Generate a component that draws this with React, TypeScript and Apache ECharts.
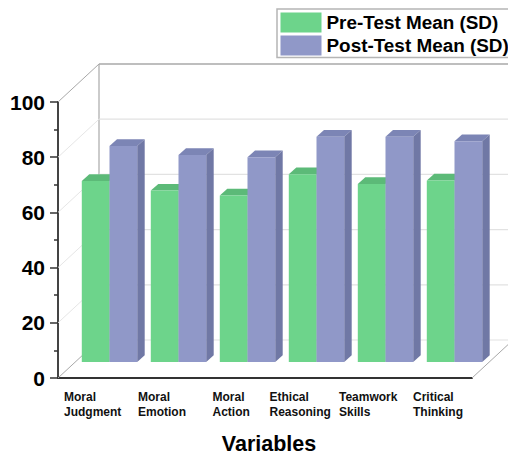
import React, { useEffect, useRef } from "react";
import * as echarts from "echarts";

const categories = ["Moral\nJudgment", "Moral\nEmotion", "Moral\nAction", "Ethical\nReasoning", "Teamwork\nSkills", "Critical\nThinking"];
const labelWidths = [57, 47, 36, 60, 59, 49];
const preTest = [65.6, 62.1, 60.3, 68, 64.5, 65.8];
const postTest = [78.3, 75, 74.2, 81.6, 81.6, 80];
const gridValues = [0, 20, 40, 60, 80, 100];

const DEPTH_X = 41, DEPTH_Y = 38;
const BAR_DX = 17, BAR_DY = 16, SIDE_X = 7.5, SIDE_Y = 6.7, BAR_W = 27.7;
const FONT = "'Liberation Sans', Arial, sans-serif";

function barRender(slot: number, front: string, top: string, side: string) {
  return (_p: any, api: any) => {
    const i = api.value(0), v = api.value(1);
    const [cx, yv] = api.coord([i, v]);
    const [, y0] = api.coord([i, 0]);
    const x = cx + BAR_DX - BAR_W + slot * BAR_W;
    const t = yv - BAR_DY, b = y0 - BAR_DY;
    const poly = (points: number[][], fill: string) => ({ type: "polygon", shape: { points }, style: { fill } });
    return {
      type: "group",
      children: [
        poly([[x, t], [x + SIDE_X, t - SIDE_Y], [x + BAR_W + SIDE_X, t - SIDE_Y], [x + BAR_W, t]], top),
        poly([[x + BAR_W, t], [x + BAR_W + SIDE_X, t - SIDE_Y], [x + BAR_W + SIDE_X, b - SIDE_Y], [x + BAR_W, b]], side),
        poly([[x, t], [x + BAR_W, t], [x + BAR_W, b], [x, b]], front),
      ],
    };
  };
}

function wallRender(params: any, api: any) {
  const v = api.value(0);
  const cs = params.coordSys;
  const [, y] = api.coord([0, v]);
  const edge = v === 0 || v === 100;
  const stroke = edge ? "#a8a8a8" : "#e6e6e6";
  const backColor = v === 100 ? "#a8a8a8" : "#e2e2e2";
  const left = cs.x, right = cs.x + cs.width;
  const children: any[] = [
    { type: "line", shape: { x1: left, y1: y, x2: left + DEPTH_X, y2: y - DEPTH_Y }, style: { stroke, lineWidth: 1 } },
    { type: "line", shape: { x1: left + DEPTH_X, y1: y - DEPTH_Y, x2: right + DEPTH_X, y2: y - DEPTH_Y }, style: { stroke: backColor, lineWidth: v === 100 ? 1.5 : 1.2 } },
  ];
  if (v === 0) {
    children.push({ type: "line", shape: { x1: right, y1: y, x2: right + DEPTH_X, y2: y - DEPTH_Y }, style: { stroke, lineWidth: 1 } });
    children.push({ type: "line", shape: { x1: left + DEPTH_X, y1: y - DEPTH_Y, x2: left + DEPTH_X, y2: cs.y - DEPTH_Y }, style: { stroke: "#a8a8a8", lineWidth: 1.2 } });
  }
  return { type: "group", children };
}

export default function App() {
  const ref = useRef<HTMLDivElement>(null);
  useEffect(() => {
    const chart = echarts.init(ref.current!, null, { renderer: "svg" });
    const rich: any = {};
    labelWidths.forEach((w, i) => {
      rich["c" + i] = { width: w, align: "left", fontSize: 12, lineHeight: 15, fontWeight: "bold", fontFamily: FONT, color: "#111" };
    });
    chart.setOption({
      animation: false,
      backgroundColor: "#fff",
      grid: { left: 58, right: 36, top: 102, bottom: 78, outerBoundsMode: "none" },
      legend: {
        left: 277,
        top: 9,
        orient: "vertical",
        data: ["Pre-Test Mean (SD)", "Post-Test Mean (SD)"],
        icon: "rect",
        itemWidth: 41,
        itemHeight: 20,
        itemGap: 3,
        padding: [3.5, 4, 2, 3.5],
        borderColor: "#b5b5b5",
        borderWidth: 1.5,
        backgroundColor: "#fff",
        selectedMode: false,
        textStyle: { fontFamily: FONT, fontWeight: "bold", fontSize: 18.9, color: "#000" },
      },
      xAxis: [
        {
          type: "category",
          data: categories,
          position: "bottom",
          axisLine: { lineStyle: { color: "#333", width: 2 } },
          axisTick: { alignWithLabel: true, length: 7, lineStyle: { color: "#333", width: 1.5 } },
          axisLabel: {
            interval: 0,
            margin: 11,
            fontFamily: FONT,
            fontWeight: "bold",
            fontSize: 12,
            lineHeight: 15,
            color: "#111",
            formatter: (val: string, i: number) => val.split("\n").map((l) => `{c${i}|${l}}`).join("\n"),
            rich,
          },
          name: "Variables",
          nameLocation: "middle",
          nameGap: 55,
          nameTextStyle: { fontFamily: FONT, fontWeight: "bold", fontSize: 21.5, color: "#000", padding: [0, 0, 0, 8] },
        },
        {
          type: "category",
          data: categories,
          position: "bottom",
          axisLine: { show: false },
          axisTick: { length: 4, lineStyle: { color: "#333", width: 1.5 } },
          axisLabel: { show: false },
        },
      ],
      yAxis: {
        type: "value",
        min: 0,
        max: 100,
        interval: 20,
        axisLine: { show: true, lineStyle: { color: "#444", width: 2 } },
        axisTick: { show: true, length: 8, lineStyle: { color: "#333", width: 1.5 } },
        minorTick: { show: true, splitNumber: 2, length: 4, lineStyle: { color: "#333", width: 1.5 } },
        splitLine: { show: false },
        axisLabel: { margin: 13, fontFamily: FONT, fontWeight: "bold", fontSize: 21, color: "#000" },
      },
      series: [
        {
          type: "custom",
          silent: true,
          data: gridValues.map((v) => [v]),
          encode: { y: 0 },
          renderItem: wallRender,
          z: 1,
        },
        {
          type: "custom",
          name: "Pre-Test Mean (SD)",
          itemStyle: { color: "#6dd48b" },
          data: preTest.map((v, i) => [i, v]),
          encode: { x: 0, y: 1 },
          renderItem: barRender(0, "#6dd48b", "#5cba78", "#5cba78"),
          z: 2,
        },
        {
          type: "custom",
          name: "Post-Test Mean (SD)",
          itemStyle: { color: "#9098c8" },
          data: postTest.map((v, i) => [i, v]),
          encode: { x: 0, y: 1 },
          renderItem: barRender(1, "#9098c8", "#7c85b5", "#7078a5"),
          z: 3,
        },
      ],
    });
    return () => chart.dispose();
  }, []);
  return <div ref={ref} style={{ position: "fixed", left: 0, top: 0, width: 508, height: 456 }} />;
}
